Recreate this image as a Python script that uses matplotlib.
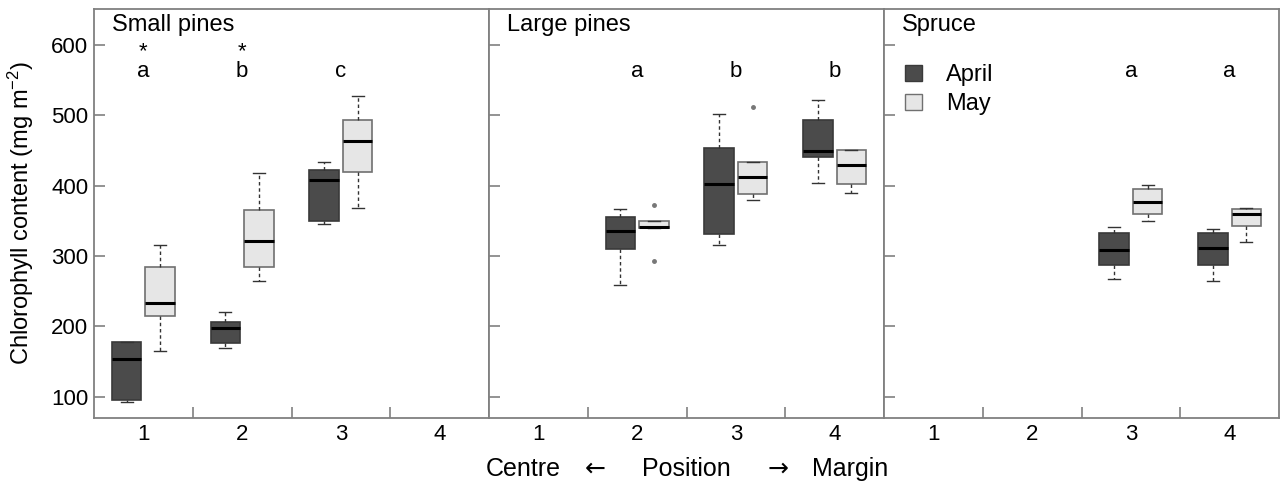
import matplotlib
matplotlib.use("Agg")
import matplotlib.pyplot as plt
from matplotlib.patches import Patch
from matplotlib.ticker import FixedLocator

plt.rcParams['font.family'] = ['Liberation Sans', 'DejaVu Sans']
plt.rcParams['mathtext.default'] = 'regular'

# ---------------- data ----------------
panel_titles = ["Small pines", "Large pines", "Spruce"]
positions_small = [1, 2, 3]
positions_large = [2, 3, 4]
positions_spruce = [3, 4]

# each entry: [whisker low, Q1, median, Q3, whisker high]
small_april = [[93, 96, 154, 178, 178], [170, 176, 198, 206, 220], [345, 350, 408, 423, 434]]
small_may = [[165, 215, 234, 284, 316], [265, 284, 322, 365, 418], [369, 420, 463, 493, 528]]
large_april = [[259, 310, 335, 356, 367], [316, 331, 403, 454, 502], [404, 441, 449, 493, 522]]
large_may = [[340, 340, 342, 350, 350], [380, 388, 412, 433, 433], [390, 403, 430, 451, 451]]
spruce_april = [[268, 288, 308, 333, 341], [265, 288, 311, 333, 339]]
spruce_may = [[350, 360, 377, 396, 401], [320, 343, 360, 367, 369]]

small_april_fliers = [[], [], []]
small_may_fliers = [[], [], []]
large_april_fliers = [[], [], []]
large_may_fliers = [[372, 293], [512], []]
spruce_april_fliers = [[], []]
spruce_may_fliers = [[], []]

small_letters = ["a", "b", "c"]
large_letters = ["a", "b", "b"]
spruce_letters = ["a", "a"]
small_stars = ["*", "*", ""]
large_stars = ["", "", ""]
spruce_stars = ["", ""]

tick_positions = [1, 2, 3, 4]
y_ticks = [100, 200, 300, 400, 500, 600]
series_labels = ["April", "May"]
xlabel_parts = ["Centre", "\u2190", "Position", "\u2192", "Margin"]

panels = [
    (positions_small, small_april, small_may, small_april_fliers, small_may_fliers, small_letters, small_stars),
    (positions_large, large_april, large_may, large_april_fliers, large_may_fliers, large_letters, large_stars),
    (positions_spruce, spruce_april, spruce_may, spruce_april_fliers, spruce_may_fliers, spruce_letters, spruce_stars),
]

# ---------------- style ----------------
col_april = "#4b4b4b"
col_may = "#e6e6e6"
spine_col = "#808080"
fs = 16

W, H = 1280, 488
fig = plt.figure(figsize=(W / 100, H / 100), dpi=100)

left_px, right_px, top_px, bot_px = 94, 1279, 9, 418
pw = (right_px - left_px) / 3


def stats_list(pos, vals, fliers):
    out = []
    for p, v, f in zip(pos, vals, fliers):
        out.append(dict(whislo=v[0], q1=v[1], med=v[2], q3=v[3], whishi=v[4], fliers=f))
    return out


axes = []
for i, (pos, apr, may, aprf, mayf, letters, stars) in enumerate(panels):
    x0 = (left_px + i * pw) / W
    ax = fig.add_axes([x0, 1 - bot_px / H, pw / W, (bot_px - top_px) / H])
    axes.append(ax)
    off = 0.17
    bw = 0.30
    for vals, fl, col, sgn, ec in ((apr, aprf, col_april, -1, "#3a3a3a"), (may, mayf, col_may, 1, "#707070")):
        st = stats_list(pos, vals, fl)
        ax.bxp(st, positions=[p + sgn * off for p in pos], widths=bw, patch_artist=True,
               capwidths=0.12, showfliers=True,
               boxprops=dict(facecolor=col, edgecolor=ec, linewidth=1.2),
               medianprops=dict(color="black", linewidth=2.2, solid_capstyle="butt"),
               whiskerprops=dict(color="#333333", linewidth=1.0, linestyle=(0, (2.5, 2))),
               capprops=dict(color="#333333", linewidth=1.0),
               flierprops=dict(marker="o", markersize=2.5, markerfacecolor="#777777",
                               markeredgecolor="#777777"))
    for p, l, s in zip(pos, letters, stars):
        txt = (s + "\n" + l) if s else l
        ax.text(p, 554, txt, ha="center", va="baseline", fontsize=fs, linespacing=0.95,
                multialignment="center")

    ax.set_xlim(0.5, 4.5)
    ax.set_ylim(70, 651)
    ax.set_xticks(tick_positions)
    ax.set_xticklabels([str(t) for t in tick_positions], fontsize=fs)
    ax.xaxis.set_minor_locator(FixedLocator([1.5, 2.5, 3.5]))
    ax.tick_params(axis="x", which="major", length=0, pad=4)
    ax.tick_params(axis="x", which="minor", direction="in", length=8, color=spine_col, width=1.2)
    ax.set_yticks(y_ticks)
    ax.tick_params(axis="y", direction="in", length=8, color=spine_col, width=1.2,
                   labelsize=fs, pad=4, labelleft=(i == 0))
    for sp in ax.spines.values():
        sp.set_color(spine_col)
        sp.set_linewidth(1.3)
    ax.text(0.046, 0.961, panel_titles[i], transform=ax.transAxes, ha="left", va="center", fontsize=fs + 1)

axes[0].set_ylabel("Chlorophyll content (mg m$^{-2}$)", fontsize=fs + 1)
axes[0].yaxis.set_label_coords(36 / W, 1 - 213.5 / H, transform=fig.transFigure)

handles = [Patch(facecolor=col_april, edgecolor="#3a3a3a", label=series_labels[0]),
           Patch(facecolor=col_may, edgecolor="#707070", label=series_labels[1])]
axes[2].legend(handles=handles, loc="upper left", bbox_to_anchor=(0.052, 0.865), frameon=False,
               fontsize=fs + 1, handlelength=0.72, handleheight=0.72, handletextpad=1.05,
               labelspacing=0.3, borderpad=0, borderaxespad=0)

# x-axis label: parts centred at measured pixel positions
xlabel_centres_px = [523.5, 595, 686.5, 778.5, 850.5]
for part, cx in zip(xlabel_parts, xlabel_centres_px):
    fam = ["DejaVu Sans"] if part in ("\u2190", "\u2192") else ["Liberation Sans", "DejaVu Sans"]
    fig.text(cx / W, 1 - 476 / H, part, ha="center", va="baseline", fontsize=18, family=fam)

fig.savefig("out.png", dpi=100)
